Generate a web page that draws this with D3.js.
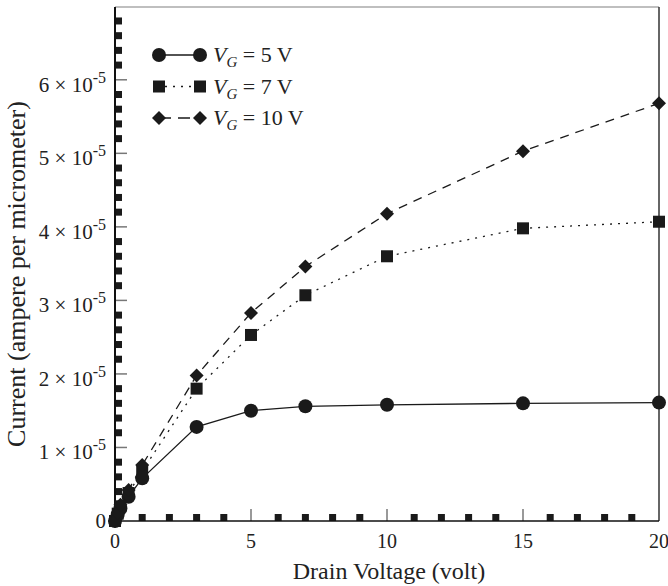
<!DOCTYPE html>
<html>
<head>
<meta charset="utf-8">
<script src="https://cdn.jsdelivr.net/npm/d3@7"></script>
<style>
  body { margin: 0; background: #fff; }
  text { font-family: "Liberation Serif", "Times New Roman", serif; fill: #222; }
</style>
</head>
<body>
<div id="chart"></div>
<script>
(function() {
    let w = 668,
        h = 586;

    // data
    const drainVoltage = [0, 0.1, 0.2, 0.5, 1, 3, 5, 7, 10, 15, 20];
    const currentVG5  = [0, 0.09e-5, 0.17e-5, 0.33e-5, 0.58e-5, 1.28e-5, 1.50e-5, 1.56e-5, 1.58e-5, 1.60e-5, 1.61e-5];
    const currentVG7  = [0, 0.10e-5, 0.20e-5, 0.38e-5, 0.68e-5, 1.80e-5, 2.53e-5, 3.07e-5, 3.60e-5, 3.98e-5, 4.07e-5];
    const currentVG10 = [0, 0.11e-5, 0.22e-5, 0.42e-5, 0.76e-5, 1.98e-5, 2.83e-5, 3.46e-5, 4.18e-5, 5.03e-5, 5.68e-5];
    const seriesNames = ["5", "7", "10"];
    const xTicks = [0, 5, 10, 15, 20];
    const yTicks = [0, 1e-5, 2e-5, 3e-5, 4e-5, 5e-5, 6e-5];
    const yTickMantissa = ["0", "1", "2", "3", "4", "5", "6"];

    let m = {left: 115, right: 659, top: 7, bottom: 521};

    let x = d3.scaleLinear().domain([0, 20]).range([m.left, m.right]);
    let y = d3.scaleLinear().domain([0, 6.99e-5]).range([m.bottom, m.top]);

    let svg = d3.select("#chart")
        .append("svg")
        .attr("width", w)
        .attr("height", h);

    // frame: top gray, right dark
    svg.append("line")
        .attr("x1", m.left).attr("x2", m.right).attr("y1", m.top).attr("y2", m.top)
        .attr("stroke", "#aaa").attr("stroke-width", 1.5);
    svg.append("line")
        .attr("x1", m.right).attr("x2", m.right).attr("y1", m.top).attr("y2", m.bottom)
        .attr("stroke", "#333").attr("stroke-width", 1.5);

    // minor ticks drawn as little squares
    let yMinor = d3.range(1, 35).map(i => i * 0.2e-5).filter((v, i) => (i + 1) % 5 !== 0);
    let xMinor = d3.range(1, 20).filter(v => v % 5 !== 0);

    svg.append("g").selectAll("rect").data(yMinor).enter().append("rect")
        .attr("x", m.left)
        .attr("y", d => y(d) - 3.5)
        .attr("width", 7).attr("height", 7)
        .attr("fill", "#1a1a1a");
    svg.append("g").selectAll("rect").data(xMinor).enter().append("rect")
        .attr("x", d => x(d) - 3.5)
        .attr("y", m.bottom - 7)
        .attr("width", 7).attr("height", 7)
        .attr("fill", "#1a1a1a");

    // major ticks
    svg.append("g").selectAll("line").data(yTicks.slice(1)).enter().append("line")
        .attr("x1", m.left).attr("x2", m.left + 12)
        .attr("y1", d => y(d)).attr("y2", d => y(d))
        .attr("stroke", "#777").attr("stroke-width", 1.5);
    svg.append("g").selectAll("line").data(xTicks.slice(1, 4)).enter().append("line")
        .attr("x1", d => x(d)).attr("x2", d => x(d))
        .attr("y1", m.bottom).attr("y2", m.bottom - 12)
        .attr("stroke", "#777").attr("stroke-width", 1.5);

    // axis lines
    svg.append("line")
        .attr("x1", m.left).attr("x2", m.left).attr("y1", m.top).attr("y2", m.bottom)
        .attr("stroke", "#111").attr("stroke-width", 2);
    svg.append("line")
        .attr("x1", m.left).attr("x2", m.right).attr("y1", m.bottom).attr("y2", m.bottom)
        .attr("stroke", "#111").attr("stroke-width", 1.5);

    // tick labels
    svg.append("g").selectAll("text").data(xTicks).enter().append("text")
        .attr("x", d => x(d))
        .attr("y", 548)
        .attr("text-anchor", "middle")
        .attr("font-size", 20)
        .text(d => d);

    let yl = svg.append("g").selectAll("text").data(yTicks).enter().append("text")
        .attr("x", 106)
        .attr("y", (d, i) => i === 0 ? y(d) + 7 : y(d) + 12)
        .attr("text-anchor", "end")
        .attr("font-size", 21);
    yl.each(function(d, i) {
        let t = d3.select(this);
        if (i === 0) { t.text("0"); return; }
        t.append("tspan").text(yTickMantissa[i] + " \u00d7 10");
        t.append("tspan").attr("font-size", 16).attr("dy", -9).text("-5");
    });

    // axis titles
    svg.append("text")
        .attr("x", 389)
        .attr("y", 579)
        .attr("text-anchor", "middle")
        .attr("font-size", 24)
        .text("Drain Voltage (volt)");
    svg.append("text")
        .attr("transform", "translate(25," + 274 + ") rotate(-90)")
        .attr("text-anchor", "middle")
        .attr("font-size", 26)
        .text("Current (ampere per micrometer)");

    // series
    let series = [
        {name: seriesNames[0], values: currentVG5, dash: null, shape: "circle"},
        {name: seriesNames[1], values: currentVG7, dash: "2,6", shape: "square"},
        {name: seriesNames[2], values: currentVG10, dash: "9,7", shape: "diamond"}
    ];

    let line = d3.line()
        .x(d => x(d[0]))
        .y(d => y(d[1]));

    function marker(g, shape, cx, cy) {
        if (shape === "circle") {
            g.append("circle").attr("cx", cx).attr("cy", cy).attr("r", 7).attr("fill", "#1a1a1a");
        } else if (shape === "square") {
            g.append("rect").attr("x", cx - 6).attr("y", cy - 6).attr("width", 12).attr("height", 12).attr("fill", "#1a1a1a");
        } else {
            g.append("path").attr("d", "M" + cx + "," + (cy - 7) + "L" + (cx + 7) + "," + cy + "L" + cx + "," + (cy + 7) + "L" + (cx - 7) + "," + cy + "Z").attr("fill", "#1a1a1a");
        }
    }

    series.forEach(function(s) {
        let pts = drainVoltage.map((v, i) => [v, s.values[i]]);
        svg.append("path")
            .attr("d", line(pts))
            .attr("fill", "none")
            .attr("stroke", "#1a1a1a")
            .attr("stroke-width", 1.3)
            .attr("stroke-dasharray", s.dash);
        let g = svg.append("g");
        pts.forEach(p => marker(g, s.shape, x(p[0]), y(p[1])));
    });

    // legend
    let lg = svg.append("g");
    series.forEach(function(s, i) {
        let ly = 55 + i * 31.5;
        lg.append("line")
            .attr("x1", 159).attr("x2", 200).attr("y1", ly).attr("y2", ly)
            .attr("stroke", "#1a1a1a").attr("stroke-width", 1.3)
            .attr("stroke-dasharray", s.dash === "9,7" ? "12,7" : s.dash)
            .attr("stroke-dashoffset", s.dash === "2,6" ? -6 : 0);
        marker(lg, s.shape, 159, ly);
        marker(lg, s.shape, 200, ly);
        let t = lg.append("text")
            .attr("x", 213).attr("y", ly + 7)
            .attr("font-size", 22);
        t.append("tspan").attr("font-style", "italic").text("V");
        t.append("tspan").attr("font-style", "italic").attr("font-size", 15).attr("dy", 5).text("G");
        t.append("tspan").attr("dy", -5).text(" = " + s.name + " V");
    });
})();
</script>
</body>
</html>
